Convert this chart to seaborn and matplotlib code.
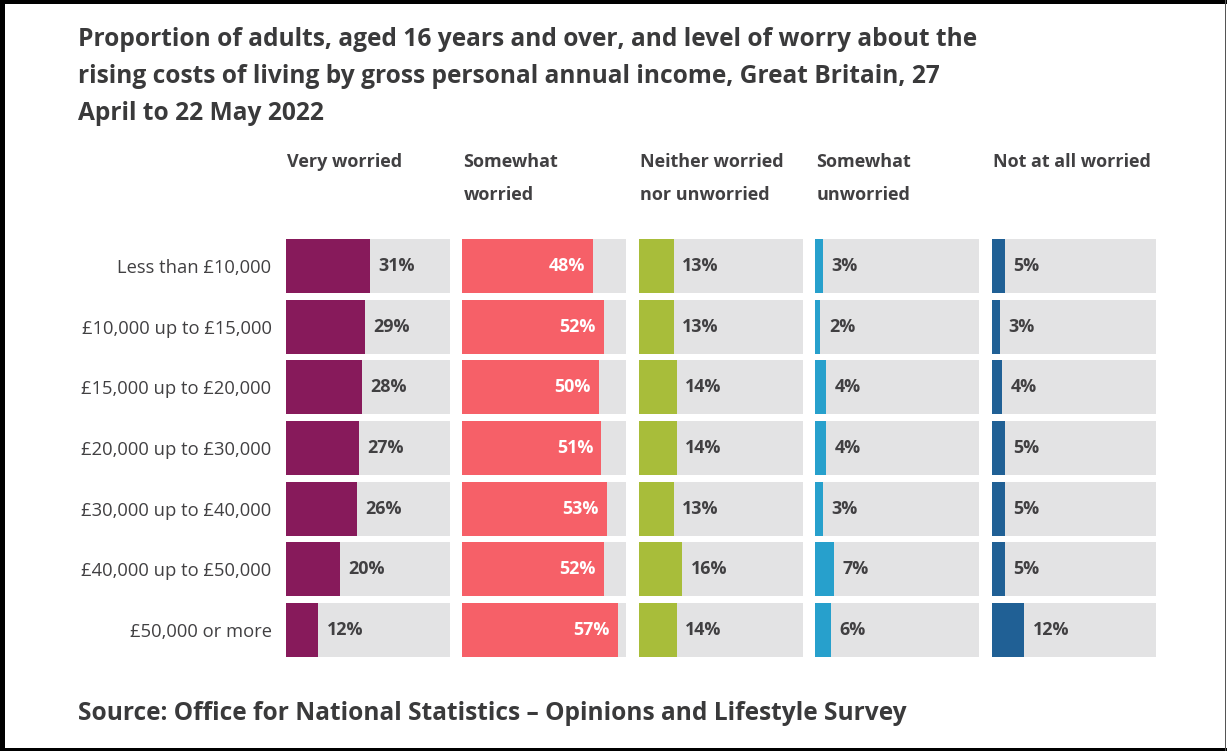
import matplotlib
matplotlib.use("Agg")
import matplotlib.pyplot as plt
import seaborn as sns
import pandas as pd
from matplotlib.patches import Rectangle

# ---- data -------------------------------------------------------------
income_bands = [
    "Less than £10,000",
    "£10,000 up to £15,000",
    "£15,000 up to £20,000",
    "£20,000 up to £30,000",
    "£30,000 up to £40,000",
    "£40,000 up to £50,000",
    "£50,000 or more",
]
worry_levels = [
    "Very worried",
    "Somewhat\nworried",
    "Neither worried\nnor unworried",
    "Somewhat\nunworried",
    "Not at all worried",
]
very_worried = [31, 29, 28, 27, 26, 20, 12]
somewhat_worried = [48, 52, 50, 51, 53, 52, 57]
neither = [13, 13, 14, 14, 13, 16, 14]
somewhat_unworried = [3, 2, 4, 4, 3, 7, 6]
not_at_all = [5, 3, 4, 5, 5, 5, 12]
series = [very_worried, somewhat_worried, neither, somewhat_unworried, not_at_all]
colors = ["#871A5B", "#F66068", "#A8BD3A", "#27A0CC", "#206095"]

title_lines = [
    "Proportion of adults, aged 16 years and over, and level of worry about the",
    "rising costs of living by gross personal annual income, Great Britain, 27",
    "April to 22 May 2022",
]
source_text = "Source: Office for National Statistics \u2013 Opinions and Lifestyle Survey"

# ---- style ------------------------------------------------------------
sns.set_theme(style="white")
plt.rcParams["font.family"] = ["Open Sans", "DejaVu Sans"]

TEXT = "#414042"
TRACK = "#E3E3E4"
SCALE_MAX = 60
LABEL_SIZE = 13.2
HEAD_SIZE = 13.0
VALUE_SIZE = 12.9
TITLE_SIZE = 17.65

W, H = 1227, 751
fig = plt.figure(figsize=(W / 100, H / 100), dpi=100)
fig.patch.set_facecolor("white")


def fx(x):
    return x / W


def fy(y):
    return 1 - y / H


# panel geometry in pixels
panel_left0 = 285.5
panel_step = 176.5
panel_width = 164
row_step = 60.67
rows_top = 266 - row_step / 2
rows_height = row_step * len(income_bands)
bar_h = 54 / row_step

for i, (level, vals, col) in enumerate(zip(worry_levels, series, colors)):
    left = panel_left0 + i * panel_step
    ax = fig.add_axes([fx(left), fy(rows_top + rows_height),
                       panel_width / W, rows_height / H])
    df = pd.DataFrame({"band": income_bands, "value": vals})
    ax.barh(range(len(income_bands)), SCALE_MAX, height=bar_h,
            color=TRACK, zorder=0, linewidth=0)
    sns.barplot(data=df, x="value", y="band", color=col, saturation=1,
                width=bar_h, ax=ax, zorder=2, linewidth=0)
    ax.set_xlim(0, SCALE_MAX)
    ax.set_ylim(len(income_bands) - 0.5, -0.5)
    ax.set_xlabel("")
    ax.set_ylabel("")
    ax.set_xticks([])
    for s in ax.spines.values():
        s.set_visible(False)
    ax.set_facecolor("none")
    ax.tick_params(axis="y", length=0, pad=10, labelsize=LABEL_SIZE,
                   labelcolor=TEXT, labelleft=(i == 0))

    for j, v in enumerate(vals):
        if i == 1:
            ax.annotate(f"{v}%", xy=(v, j), xytext=(-6, 0),
                        textcoords="offset points", ha="right", va="center",
                        color="white", fontsize=VALUE_SIZE, fontweight="bold",
                        zorder=3)
        else:
            ax.annotate(f"{v}%", xy=(v, j), xytext=(6, 0),
                        textcoords="offset points", ha="left", va="center",
                        color=TEXT, fontsize=VALUE_SIZE, fontweight="bold",
                        zorder=3)

    # column header
    for k, line in enumerate(level.split("\n")):
        fig.text(fx(left + 1.5), fy(162 + k * 33), line, ha="left", va="center",
                 fontsize=HEAD_SIZE, fontweight="bold", color=TEXT)

# title
for k, line in enumerate(title_lines):
    fig.text(fx(78), fy(40 + k * 36.5), line, ha="left", va="center",
             fontsize=TITLE_SIZE, fontweight="bold", color="#3A3A3B")

# source
fig.text(fx(78), fy(714), source_text, ha="left", va="center",
         fontsize=TITLE_SIZE, fontweight="bold", color="#3A3A3B")

# frame around the graphic
frame = [
    (0, 0, 4.5, H, "black"),
    (0, 0, W, 4, "black"),
    (0, H - 3, W, 3, "black"),
    (W - 2.5, 0, 1.5, H, "#555555"),
]
for x0, y0, w, h, c in frame:
    fig.add_artist(Rectangle((fx(x0), fy(y0 + h)), w / W, h / H,
                             transform=fig.transFigure, color=c, linewidth=0,
                             zorder=10))

fig.savefig("out.png", dpi=100, facecolor="white")
